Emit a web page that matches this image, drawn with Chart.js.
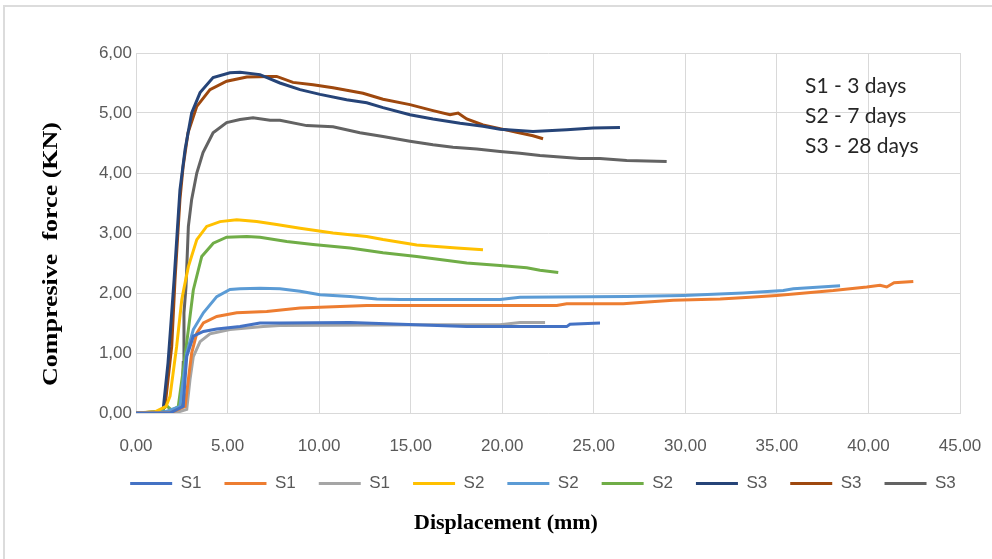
<!DOCTYPE html>
<html>
<head>
<meta charset="utf-8">
<script src="https://cdn.jsdelivr.net/npm/chart.js@4"></script>
<style>
  html, body { margin: 0; padding: 0; background: #fff; overflow: hidden; }
  #wrap { position: relative; width: 992px; height: 559px; }
  #frame { position: absolute; left: 3px; top: 5px; width: 1100px; height: 700px;
           border: 2px solid #dcdcdc; box-sizing: border-box; }
  #note { position: absolute; left: 805px; top: 70px; font-family: Lato, sans-serif;
          font-size: 21px; line-height: 30px; color: #262626; }
  canvas { position: absolute; left: 0; top: 0; }
</style>
</head>
<body>
<div id="wrap">
  <div id="frame"></div>
  <canvas id="chart"></canvas>
  <div id="note">S1 - 3 days<br>S2 - 7 days<br>S3 - 28 days</div>
</div>
<script>
// tick range
const xTicks = [0, 45, 5];
const yTicks = [0, 6, 1];

// S1 (3 days)
const s1aX = [0, 1.86, 2.58, 2.68, 2.77, 3.13, 3.68, 4.41, 5.68, 6.77, 7.86, 11.69, 18.06, 23.52, 23.7, 25.34];
const s1aY = [0, 0, 0.11, 0.56, 0.94, 1.28, 1.36, 1.40, 1.44, 1.50, 1.50, 1.51, 1.44, 1.44, 1.48, 1.50];
const s1bX = [0, 1.86, 2.68, 2.86, 3.04, 3.32, 3.68, 4.41, 5.5, 7.14, 8.96, 10.78, 12.6, 22.98, 23.52, 26.61, 27.53, 29.34, 31.9, 33.53, 34.99, 38.08, 39.91, 40.63, 41.0, 41.4, 42.45];
const s1bY = [0, 0, 0.11, 0.56, 1.0, 1.33, 1.5, 1.61, 1.67, 1.69, 1.75, 1.77, 1.79, 1.79, 1.82, 1.82, 1.84, 1.88, 1.9, 1.93, 1.96, 2.04, 2.1, 2.13, 2.1, 2.17, 2.19];
const s1cX = [0, 2.13, 2.77, 2.95, 3.13, 3.5, 4.04, 5.13, 6.95, 7.86, 16.24, 19.88, 20.97, 22.34];
const s1cY = [0, 0, 0.06, 0.56, 0.94, 1.19, 1.32, 1.39, 1.44, 1.46, 1.47, 1.47, 1.51, 1.51];

// S2 (7 days)
const s2aX = [0, 1.04, 1.64, 1.86, 2.22, 2.5, 2.62, 2.86, 3.32, 3.86, 4.59, 5.5, 6.59, 7.68, 8.96, 10.76, 12.6, 13.49, 15.33, 17.51, 18.95];
const s2aY = [0, 0.02, 0.11, 0.28, 1.11, 1.89, 2.08, 2.44, 2.89, 3.11, 3.19, 3.22, 3.19, 3.14, 3.08, 3.0, 2.94, 2.89, 2.8, 2.75, 2.72];
const s2bX = [0, 1.58, 2.40, 2.58, 2.77, 3.13, 3.68, 4.41, 5.13, 5.68, 6.77, 7.86, 8.96, 10.05, 11.69, 13.15, 14.42, 19.88, 20.97, 26.8, 29.89, 33.17, 35.35, 35.9, 38.45];
const s2bY = [0, 0.02, 0.11, 0.56, 1.0, 1.39, 1.67, 1.94, 2.06, 2.07, 2.08, 2.07, 2.03, 1.97, 1.94, 1.9, 1.89, 1.89, 1.93, 1.94, 1.96, 2.0, 2.04, 2.07, 2.12];
const s2cX = [0, 1.31, 1.68, 1.97, 2.31, 2.58, 2.86, 3.13, 3.59, 4.22, 4.95, 6.05, 6.77, 8.23, 9.67, 11.69, 13.49, 15.33, 18.06, 19.88, 21.34, 22.06, 23.06];
const s2cY = [0, 0.02, 0.12, 0.04, 0.11, 0.72, 1.39, 2.05, 2.61, 2.83, 2.93, 2.94, 2.93, 2.86, 2.81, 2.75, 2.67, 2.61, 2.5, 2.46, 2.42, 2.38, 2.34];

// S3 (28 days)
const s3aX = [0, 1.47, 1.75, 1.95, 2.08, 2.40, 2.68, 3.04, 3.50, 4.21, 5.13, 5.68, 6.77, 7.86, 8.96, 10.05, 11.5, 12.6, 13.49, 14.96, 16.22, 17.7, 18.95, 19.88, 21.68, 23.52, 24.96, 26.43];
const s3aY = [0, 0.02, 0.84, 1.67, 2.22, 3.72, 4.39, 5.0, 5.34, 5.59, 5.67, 5.68, 5.64, 5.5, 5.39, 5.31, 5.22, 5.17, 5.09, 4.97, 4.9, 4.83, 4.78, 4.73, 4.69, 4.72, 4.75, 4.76];
const s3bX = [0, 1.31, 1.58, 1.95, 2.13, 2.40, 2.57, 2.84, 3.32, 4.04, 4.95, 6.05, 7.32, 7.68, 8.57, 9.67, 10.76, 12.4, 13.49, 14.96, 16.22, 17.15, 17.59, 18.06, 18.95, 19.88, 20.79, 21.68, 22.23];
const s3bY = [0, 0.02, 0.10, 1.11, 2.22, 3.56, 4.1, 4.67, 5.11, 5.39, 5.53, 5.6, 5.61, 5.61, 5.51, 5.47, 5.42, 5.33, 5.23, 5.14, 5.04, 4.97, 5.0, 4.9, 4.8, 4.74, 4.68, 4.62, 4.57];
const s3cX = [0, 1.86, 2.50, 2.58, 2.62, 2.73, 2.86, 3.04, 3.32, 3.66, 4.21, 4.95, 5.68, 6.39, 7.32, 7.86, 9.32, 10.76, 12.23, 13.49, 14.96, 16.22, 17.31, 18.61, 19.88, 20.97, 22.06, 24.25, 25.34, 26.8, 28.98];
const s3cY = [0, 0.02, 0.11, 0.84, 1.67, 2.1, 3.11, 3.56, 4.0, 4.34, 4.67, 4.84, 4.89, 4.92, 4.88, 4.88, 4.79, 4.77, 4.67, 4.61, 4.53, 4.47, 4.43, 4.4, 4.36, 4.33, 4.29, 4.24, 4.24, 4.21, 4.19];

const seriesNames = ["S1", "S1", "S1", "S2", "S2", "S2", "S3", "S3", "S3"];
const seriesX = [s1aX, s1bX, s1cX, s2aX, s2bX, s2cX, s3aX, s3bX, s3cX];
const seriesY = [s1aY, s1bY, s1cY, s2aY, s2bY, s2cY, s3aY, s3bY, s3cY];
const colors = ["#4472C4", "#ED7D31", "#A5A5A5", "#FFC000", "#5B9BD5", "#70AD47", "#264478", "#9E480E", "#636363"];

const xTitle = "Displacement (mm)";
const yTitle = "Compresive  force (KN)";

const tickFont = { family: "'Liberation Sans', Arial, sans-serif", size: 17 };
const tickColor = "#595959";
const gridColor = "#d9d9d9";
const fmt = v => v.toFixed(2).replace(".", ",");

const datasets = seriesNames.map((name, i) => ({
  label: name,
  data: seriesX[i].map((x, j) => ({ x: x, y: seriesY[i][j] })),
  borderColor: colors[i],
  backgroundColor: colors[i],
  borderWidth: 3,
  pointRadius: 0,
  tension: 0
}));

// axis titles drawn by hand so the legend can sit between ticks and x title
const axisTitles = {
  id: "axisTitles",
  afterDraw(chart) {
    const c = chart.ctx;
    c.save();
    c.fillStyle = "#000";
    c.textAlign = "center";
    c.textBaseline = "middle";
    c.font = "bold 22px 'Liberation Serif', serif";
    c.fillText(xTitle, 506, 523);
    c.translate(52, 254);
    c.rotate(-Math.PI / 2);
    c.scale(1, 0.8);
    c.font = "bold 26px 'Liberation Serif', serif";
    c.fillText(yTitle, 0, 0);
    c.restore();
  }
};

new Chart(document.getElementById("chart"), {
  type: "line",
  data: { datasets },
  options: {
    responsive: true,
    maintainAspectRatio: false,
    animation: false,
    layout: { padding: { top: 53, right: 0, bottom: 57, left: 94 } },
    scales: {
      x: {
        type: "linear",
        min: xTicks[0],
        max: xTicks[1],
        ticks: { stepSize: xTicks[2], padding: 23, color: tickColor, font: tickFont, callback: fmt, maxRotation: 0 },
        grid: { color: gridColor, drawTicks: false },
        border: { color: gridColor },
        afterFit: s => { s.height = 39; s.paddingLeft = 0; s.paddingRight = 32; }
      },
      y: {
        min: yTicks[0],
        max: yTicks[1],
        ticks: { stepSize: yTicks[2], padding: 4, color: tickColor, font: tickFont, callback: fmt },
        grid: { color: gridColor, drawTicks: false },
        border: { color: gridColor },
        afterFit: s => { s.width = 42; s.paddingTop = 0; s.paddingBottom = 0; }
      }
    },
    plugins: {
      legend: {
        position: "bottom",
        labels: {
          usePointStyle: true,
          pointStyle: "line",
          pointStyleWidth: 42,
          padding: 23,
          color: tickColor,
          font: tickFont
        }
      },
      tooltip: { enabled: false }
    }
  },
  plugins: [axisTitles]
});
</script>
</body>
</html>
